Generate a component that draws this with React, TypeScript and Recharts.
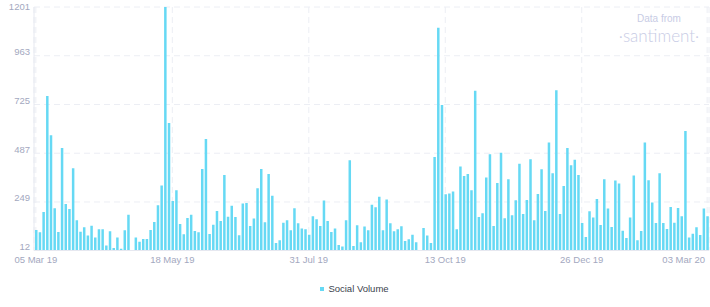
import React from 'react';
import { BarChart, Bar, XAxis, YAxis, CartesianGrid, Legend } from 'recharts';

const socialVolume: number[] = [
  112, 101, 200, 766, 575, 218, 102, 513, 239, 215,
  414, 160, 104, 125, 85, 133, 76, 116, 116, 36,
  106, 24, 76, 21, 111, 186, 12, 76, 55, 68,
  68, 112, 151, 233, 329, 1201, 635, 254, 306, 142,
  91, 171, 186, 107, 101, 410, 557, 93, 138, 205,
  156, 381, 177, 230, 176, 86, 241, 244, 132, 168,
  316, 410, 150, 386, 279, 49, 62, 148, 160, 111,
  218, 145, 120, 116, 89, 179, 164, 132, 256, 156,
  102, 119, 39, 32, 160, 453, 34, 135, 52, 129,
  111, 236, 223, 275, 111, 261, 145, 106, 116, 130,
  58, 67, 89, 52, 14, 122, 85, 49, 469, 1100,
  722, 287, 290, 300, 116, 422, 376, 386, 306, 792,
  176, 194, 368, 482, 132, 342, 489, 169, 360, 184,
  257, 435, 190, 259, 458, 160, 288, 409, 205, 539,
  389, 794, 190, 327, 513, 428, 455, 381, 146, 78,
  204, 173, 264, 137, 360, 217, 127, 354, 339, 109,
  73, 173, 378, 62, 107, 539, 355, 246, 146, 389,
  146, 117, 225, 148, 220, 179, 596, 75, 94, 125,
  88, 217, 179,
];

const tickIndexes: number[] = [0, 37, 74, 111, 148, 182];
const tickLabels: string[] = ['05 Mar 19', '18 May 19', '31 Jul 19', '13 Oct 19', '26 Dec 19', '03 Mar 20'];
const yTicks: number[] = [12, 249, 487, 725, 963, 1201];
const seriesName = 'Social Volume';

const BAR_COLOR = '#66d9f4';
const AXIS_TEXT = '#a3a8c0';
const FONT = '"Liberation Sans", Arial, sans-serif';

const data = socialVolume.map((v, i) => ({ i, value: v }));

const labelFor = (idx: number) => {
  const k = tickIndexes.indexOf(idx);
  return k >= 0 ? tickLabels[k] : '';
};

const XTick = (props: any) => {
  const { x, y, payload } = props;
  const isLast = payload.value === tickIndexes[tickIndexes.length - 1];
  return (
    <text
      x={isLast ? x - 2 : x}
      y={y + 12.3}
      textAnchor={isLast ? 'end' : 'middle'}
      fill={AXIS_TEXT}
      fontSize={9.5}
      fontFamily={FONT}
    >
      {labelFor(payload.value)}
    </text>
  );
};

const YTick = (props: any) => {
  const { x, y, payload } = props;
  return (
    <text
      x={x}
      y={Math.max(y - 4, 7)}
      dy="0.35em"
      textAnchor="end"
      fill={AXIS_TEXT}
      fontSize={9.5}
      fontFamily={FONT}
    >
      {payload.value}
    </text>
  );
};

const LegendContent = () => (
  <div style={{ height: 24, display: 'flex', justifyContent: 'center', alignItems: 'flex-start' }}>
    <div style={{ display: 'flex', alignItems: 'center', lineHeight: '11px' }}>
      <span style={{ display: 'inline-block', width: 4, height: 4, background: BAR_COLOR, marginRight: 4 }} />
      <span style={{ fontSize: 9.5, color: '#3b3f4c', fontFamily: FONT }}>{seriesName}</span>
    </div>
  </div>
);

export default function App() {
  return (
    <div style={{ position: 'absolute', left: 0, top: 0, width: 710, height: 307, background: '#fff' }}>
      <BarChart
        width={710}
        height={307}
        data={data}
        margin={{ top: 7, right: 1, left: 0, bottom: 0 }}
        barCategoryGap={0}
      >
        <CartesianGrid stroke="#eceef4" strokeDasharray="6 4" />
        <XAxis
          dataKey="i"
          type="category"
          ticks={tickIndexes}
          interval={0}
          tickLine={false}
          tickSize={0}
          tickMargin={0}
          height={32.5}
          axisLine={{ stroke: '#e6e8f0' }}
          tick={<XTick />}
        />
        <YAxis
          domain={[12, 1201]}
          ticks={yTicks}
          interval={0}
          width={34}
          tickLine={false}
          tickSize={0}
          tickMargin={4}
          axisLine={{ stroke: '#e6e8f0' }}
          tick={<YTick />}
          allowDataOverflow
        />
        <Legend verticalAlign="bottom" content={<LegendContent />} />
        <Bar dataKey="value" name={seriesName} fill={BAR_COLOR} barSize={2.5} isAnimationActive={false} />
      </BarChart>
      <div
        style={{
          position: 'absolute',
          left: 609,
          top: 13,
          width: 100,
          height: 12,
          textAlign: 'center',
          color: '#c8cce5',
          fontSize: 10,
          lineHeight: '12px',
          fontFamily: FONT,
          pointerEvents: 'none',
        }}
      >
        Data from
      </div>
      <div
        style={{
          position: 'absolute',
          left: 609,
          top: 26,
          width: 100,
          height: 19,
          textAlign: 'center',
          color: '#c8cce5',
          fontSize: 17,
          lineHeight: '19px',
          fontWeight: 300,
          fontFamily: 'Lato, sans-serif',
          pointerEvents: 'none',
        }}
      >
        ·santiment·
      </div>
    </div>
  );
}
